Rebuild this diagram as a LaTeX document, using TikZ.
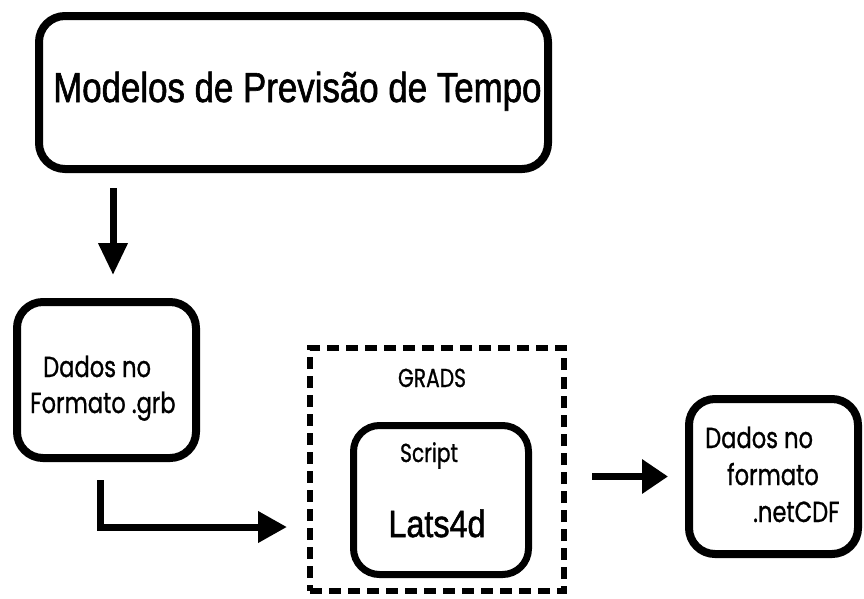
\documentclass[tikz,border=0pt]{standalone}
\usepackage{fontspec}
\usetikzlibrary{arrows.meta}
\newfontfamily\narrowsans[FakeStretch=0.83,FakeBold=1.4]{Liberation Sans}
\newfontfamily\latsfont[FakeStretch=0.85,FakeBold=1.4]{Liberation Sans}
\newfontfamily\gothic[FakeStretch=0.78,FakeBold=0.9]{Poppins}
\begin{document}
\begin{tikzpicture}[x=1pt,y=-1pt,
  box/.style={draw=black, line width=8pt, rounded corners=26pt, inner sep=0pt, fill=white},
  inbox/.style={draw=black, line width=7pt, rounded corners=26pt, inner sep=0pt},
  dashbox/.style={draw=black, line width=6pt, dash pattern=on 12pt off 7pt, inner sep=0pt},
  arr/.style={line width=7pt, -{Triangle[length=32pt,width=28pt]}},
  txt/.style={inner sep=0pt, anchor=base west},
  ctxt/.style={inner sep=0pt, anchor=base}]
\useasboundingbox (0,0) rectangle (864,598);
% boxes
\node[box, minimum width=509pt, minimum height=153pt] (top) at (293.5,92.5) {};
\node[box, minimum width=179pt, minimum height=156pt] (grb) at (106.5,380) {};
\node[dashbox, minimum width=254pt, minimum height=243pt] (grads) at (437,469.5) {};
\node[inbox, minimum width=175pt, minimum height=149pt] (lats) at (441,500) {};
\node[box, minimum width=169pt, minimum height=155pt] (nc) at (773.5,476.5) {};
% texts
\node[txt] (t1) at (53,102) {\narrowsans\fontsize{42}{48}\selectfont Modelos de Previsão de Tempo};
\node[txt] (t2) at (43,377) {\gothic\fontsize{29}{34}\selectfont Dados no};
\node[txt] (t3) at (30,413) {\gothic\fontsize{29}{34}\selectfont Formato .grb};
\node[ctxt] (t4) at (432,387) {\gothic\fontsize{26}{30}\selectfont GRADS};
\node[ctxt] (t5) at (429,462) {\gothic\fontsize{26}{30}\selectfont Script};
\node[ctxt] (t6) at (437,537) {\latsfont\fontsize{38}{44}\selectfont Lats4d};
\node[txt] (t7) at (705,448) {\gothic\fontsize{29}{34}\selectfont Dados no};
\node[txt] (t8) at (727,485) {\gothic\fontsize{29}{34}\selectfont formato};
\node[txt] (t9) at (753,522) {\gothic\fontsize{29}{34}\selectfont .netCDF};
% connectors
\path ([xshift=6.5pt]grb.north) coordinate (a1);
\draw[arr, shorten <=15pt, shorten >=23pt] (a1 |- top.south) -- (a1);
\path ([xshift=-6.5pt]grb.south) coordinate (e1);
\draw[arr, -{Triangle[length=29pt,width=30pt]}, shorten <=18pt, shorten >=20pt] (e1) |- ([yshift=-57.5pt]grads.west);
\draw[arr, -{Triangle[length=26pt,width=33pt]}, shorten <=25pt, shorten >=17pt] (grads.east |- nc.west) -- (nc.west);
\end{tikzpicture}
\end{document}
